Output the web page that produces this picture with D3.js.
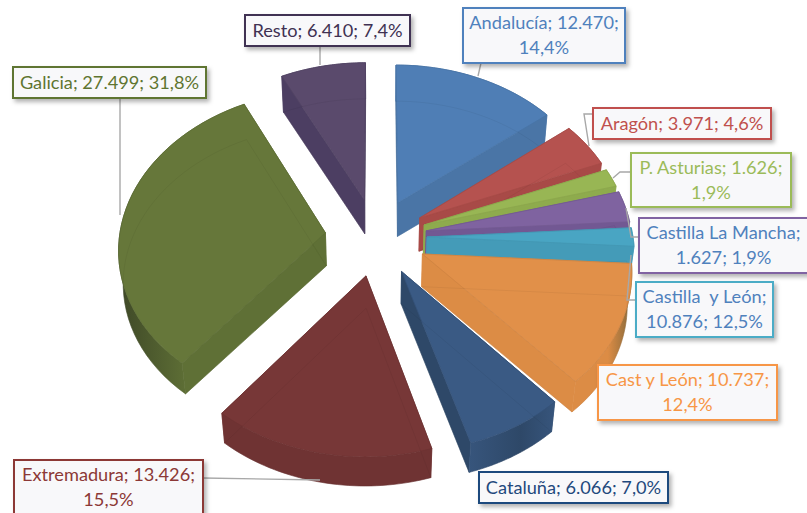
<!DOCTYPE html>
<html><head><meta charset="utf-8">
<script src="https://cdn.jsdelivr.net/npm/d3@7/dist/d3.min.js"></script>
<style>html,body{margin:0;padding:0;background:#fff;overflow:hidden}svg{display:block}text{font-family:Lato,"Open Sans",sans-serif}</style>
</head><body><svg id="c" width="807" height="513"></svg>
<script>
// ---- data ----
const categories = ["Andalucía","Aragón","P. Asturias","Castilla La Mancha","Castilla y León","Cast y León","Cataluña","Extremadura","Galicia","Resto"];
// drawn slice sizes; the two Castilla slices are not drawn as their labels say
const values = [12470,3971,1626,2768,1627,10737,6066,13426,27499,6410];
const labelLines = [
 ["Andalucía; 12.470;","14,4%"],["Aragón; 3.971; 4,6%"],["P. Asturias; 1.626;","1,9%"],
 ["Castilla La Mancha;","1.627; 1,9%"],["Castilla  y León;","10.876; 12,5%"],["Cast y León; 10.737;","12,4%"],
 ["Cataluña; 6.066; 7,0%"],["Extremadura; 13.426;","15,5%"],["Galicia; 27.499; 31,8%"],["Resto; 6.410; 7,4%"]];
// ---- styles ----
const topColors  = ["#4f7eb5","#b5524f","#98b654","#7f63a0","#49a5c3","#e19049","#3a5a84","#773737","#66773a","#5a4a6c"];
const wallColors = ["#4a75a6","#a84a47","#8eab4d","#725893","#449bb8","#dc8c45","#2e4868","#6f3333","#5f7036","#4c3e62"];
const arcLeft    = ["#4a75a6","#a84a47","#8eab4d","#725893","#449bb8","#dc8c45","#37557c","#6f3333","#3e4827","#4c3e62"];
const arcRight   = ["#4a75a6","#a84a47","#8eab4d","#725893","#449bb8","#85683a","#37557c","#6f3333","#5f7036","#4c3e62"];
const borderColors=["#4f81bd","#c0504d","#9bbb59","#8064a2","#4bacc6","#f79646","#1f497d","#8c3836","#5f7530","#403152"];
const textColors = ["#4f81bd","#c0504d","#9bbb59","#4f81bd","#4f81bd","#f79646","#1f497d","#8c3836","#5f7530","#403152"];
// label boxes [x0,y0,x1,y1]
const boxes = [[463,8,625,63],[593,108,771,139],[631,153,791,207],[639,218,808,273],[636,282,773,337],[598,365,777,420],[479,472,668,503],[14,460,203,520],[13,67,206,98],[245,15,410,46]];
const leaders = [
 [[481,63],[478,76]],[[593,114],[584,114],[589,146]],[[631,172],[620,172],[613,178]],
 [[639,237],[631,237],[626,208]],[[636,300],[627,300],[631,255]],[],[],
 [[203,478],[320,480]],[[120,98],[120,215]],[[320,46],[320,65]]];
// ---- projection ----
const cx=376, cy=237, R=206, explode=51, k=0.76, persp=0.00045, depth=33, shrink=0.982;
function proj(X,Y,low){
  const s=1/(1-persp*Y);
  let x=X*s, y=k*Y*s;
  if(low){x*=shrink;y=y*shrink+depth;}
  return [cx+x,cy+y];
}
const svg=d3.select("#c");
const defs=svg.append("defs");
const f=defs.append("filter").attr("id","sh").attr("x","-10%").attr("y","-20%").attr("width","125%").attr("height","150%");
f.append("feDropShadow").attr("dx",2.5).attr("dy",3).attr("stdDeviation",2.2).attr("flood-color","#000").attr("flood-opacity",.3);
const pie=d3.pie().sort(null).value(d=>d).startAngle(0).endAngle(2*Math.PI);
const arcs=pie(values);
const line=d3.line();
const slices=arcs.map((a,i)=>{
  const mid=(a.startAngle+a.endAngle)/2;
  const ox=explode*Math.sin(mid), oy=-explode*Math.cos(mid);
  const angs=d3.range(0,41).map(j=>a.startAngle+(a.endAngle-a.startAngle)*j/40);
  const rim=angs.map(t=>[ox+R*Math.sin(t),oy-R*Math.cos(t)]);
  return {i,mid,ox,oy,rim};
});
slices.sort((p,q)=>Math.cos(q.mid)-Math.cos(p.mid));
const g=svg.append("g");
const P=(pts,low)=>pts.map(p=>proj(p[0],p[1],low));
slices.forEach(s=>{
  const {i,ox,oy,rim}=s, apex=[[ox,oy]];
  const sg=g.append("g");
  const top=P(apex.concat(rim)), bot=P(apex.concat(rim),true);
  const wall=(a,b,fill)=>sg.append("path").attr("d",line(a.concat(b.slice().reverse()))+"Z")
     .attr("fill",fill).attr("stroke",fill).attr("stroke-width",.6);
  const first=[apex[0],rim[0]], last=[apex[0],rim[rim.length-1]];
  wall(P(first),P(first,true),wallColors[i]);
  wall(P(last),P(last,true),wallColors[i]);
  const rt=P(rim), rb=P(rim,true);
  const ext=d3.extent(rt.concat(rb),d=>d[0]);
  const id="ga"+i;
  const lg=defs.append("linearGradient").attr("id",id).attr("gradientUnits","userSpaceOnUse")
     .attr("x1",ext[0]).attr("x2",ext[1]).attr("y1",0).attr("y2",0);
  lg.append("stop").attr("offset",0).attr("stop-color",arcLeft[i]);
  lg.append("stop").attr("offset",i===8?.55:.6).attr("stop-color",i===8?arcRight[i]:wallColors[i]);
  lg.append("stop").attr("offset",1).attr("stop-color",arcRight[i]);
  wall(rt,rb,`url(#${id})`);
  sg.append("path").attr("d",line(top)+"Z").attr("fill",topColors[i])
     .attr("stroke",d3.color(topColors[i]).darker(.25)).attr("stroke-width",.8).attr("stroke-linejoin","round");
  sg.append("path").attr("d",line(bot)+"Z").attr("fill","none")
     .attr("stroke","#000").attr("stroke-opacity",.055).attr("stroke-width",.9);
});
// leaders
const lead=svg.append("g");
leaders.forEach(l=>{ if(l.length) lead.append("path").attr("d",line(l)).attr("fill","none").attr("stroke","#a8a8a8").attr("stroke-width",1.4);});
// labels
const lab=svg.append("g");
categories.forEach((c,i)=>{
  const b=boxes[i];
  lab.append("rect").attr("x",b[0]).attr("y",b[1]).attr("width",b[2]-b[0]).attr("height",b[3]-b[1])
    .attr("fill","#f8f8fa").attr("stroke",borderColors[i]).attr("stroke-width",2).attr("filter","url(#sh)");
  const n=labelLines[i].length, mx=(b[0]+b[2])/2;
  labelLines[i].forEach((t,j)=>{
    const y=n===1?(b[1]+b[3])/2+6:b[1]+21+j*25;
    lab.append("text").attr("x",mx).attr("y",y).attr("text-anchor","middle").attr("font-size",18.2)
      .attr("fill",textColors[i]).style("white-space","pre").text(t);
  });
});
</script></body></html>
